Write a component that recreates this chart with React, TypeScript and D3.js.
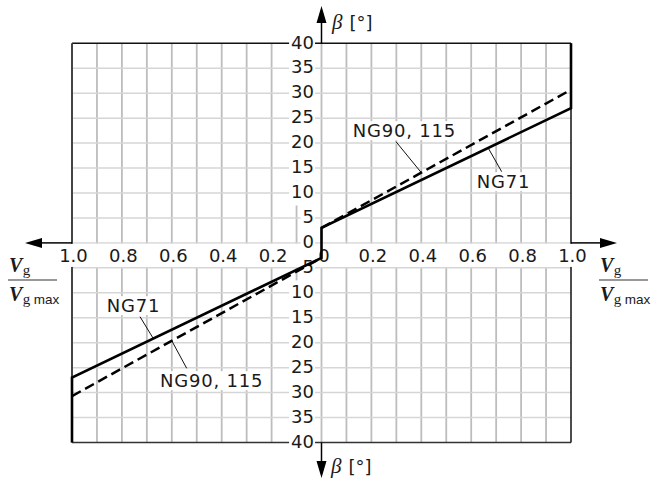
import React, { useEffect, useRef } from "react";
import * as d3 from "d3";

const WIDTH = 654;
const HEIGHT = 479;

// Swivel ratio Vg/Vg max (left-hand side negative) against swivel angle β in degrees
const ng71Curve: [number, number][] = [
  [-1, -40],
  [-1, -27],
  [0, -3],
  [0, 3],
  [1, 27],
  [1, 40],
];
const ng90UpperCurve: [number, number][] = [
  [0, 3],
  [1, 30.7],
];
const ng90LowerCurve: [number, number][] = [
  [-1, -30.7],
  [0, -3],
];

const xTicks = [-1, -0.8, -0.6, -0.4, -0.2, 0, 0.2, 0.4, 0.6, 0.8, 1];
const xTickLabels = ["1.0", "0.8", "0.6", "0.4", "0.2", "0", "0.2", "0.4", "0.6", "0.8", "1.0"];
const yTicks = [40, 35, 30, 25, 20, 15, 10, 5, 0, -5, -10, -15, -20, -25, -30, -35, -40];
const yTickLabels = ["40", "35", "30", "25", "20", "15", "10", "5", "0", "5", "10", "15", "20", "25", "30", "35", "40"];

const seriesNames = ["NG71", "NG90, 115"];

// Callout placement: text origin, leader start and the ratio where the leader meets its curve
const callouts = [
  { name: seriesNames[1], curve: ng90UpperCurve, tx: 352.7, ty: 136.7, lx: 396, ly: 141.7, at: 0.4 },
  { name: seriesNames[0], curve: ng71Curve, tx: 476.7, ty: 187.7, lx: 501.7, ly: 171.7, at: 0.668 },
  { name: seriesNames[0], curve: ng71Curve, tx: 106.7, ty: 311.7, lx: 140, ly: 316.7, at: -0.674 },
  { name: seriesNames[1], curve: ng90LowerCurve, tx: 160, ty: 386.7, lx: 186.7, ly: 368.3, at: -0.6 },
];

const SANS = "'DejaVu Sans', sans-serif";
const SERIF = "'Liberation Serif', 'DejaVu Serif', serif";

function betaAt(curve: [number, number][], x: number): number {
  for (let i = 0; i < curve.length - 1; i++) {
    const [x0, y0] = curve[i];
    const [x1, y1] = curve[i + 1];
    if (x0 !== x1 && x >= Math.min(x0, x1) && x <= Math.max(x0, x1)) {
      return d3.scaleLinear().domain([x0, x1]).range([y0, y1])(x);
    }
  }
  return curve[0][1];
}

export default function App() {
  const ref = useRef<SVGSVGElement | null>(null);

  useEffect(() => {
    const svg = d3.select(ref.current);
    svg.selectAll("*").remove();

    const x = d3.scaleLinear().domain([-1, 1]).range([72, 571]);
    const y = d3.scaleLinear().domain([-40, 40]).range([442.5, 43.3]);

    const g = svg.append("g");

    // grid
    const vGrid = d3.range(-9, 10).map((i) => i / 10);
    g.selectAll("line.vg")
      .data(vGrid)
      .join("line")
      .attr("x1", (d) => x(d))
      .attr("x2", (d) => x(d))
      .attr("y1", y(40))
      .attr("y2", y(-40))
      .attr("stroke", "#bdbdbd")
      .attr("stroke-width", 1.8);
    const hGrid = d3.range(-7, 8).map((i) => i * 5);
    g.selectAll("line.hg")
      .data(hGrid)
      .join("line")
      .attr("x1", x(-1))
      .attr("x2", x(1))
      .attr("y1", (d) => y(d))
      .attr("y2", (d) => y(d))
      .attr("stroke", "#d6d6d6")
      .attr("stroke-width", 1.5);

    // frame
    g.append("line").attr("x1", x(-1)).attr("x2", x(1)).attr("y1", y(40)).attr("y2", y(40)).attr("stroke", "#111").attr("stroke-width", 1.5);
    g.append("line").attr("x1", x(-1)).attr("x2", x(1)).attr("y1", y(-40)).attr("y2", y(-40)).attr("stroke", "#333").attr("stroke-width", 1.5);
    g.append("line").attr("x1", x(-1)).attr("x2", x(-1)).attr("y1", y(40)).attr("y2", y(-40)).attr("stroke", "#444").attr("stroke-width", 2);
    g.append("line").attr("x1", x(1)).attr("x2", x(1)).attr("y1", y(40)).attr("y2", y(-40)).attr("stroke", "#111").attr("stroke-width", 1.5);

    // band carrying the ratio tick labels
    g.append("rect")
      .attr("x", x(-1) - 10)
      .attr("y", y(0) + 0.9)
      .attr("width", x(1) - x(-1) + 20)
      .attr("height", y(-5) - y(0) - 1.8)
      .attr("fill", "#fff");

    // angle tick labels with white boxes
    const yl = g.append("g");
    yTicks.forEach((v, i) => {
      const label = yTickLabels[i];
      const w = label.length * 11.45;
      yl.append("rect")
        .attr("x", 314 - w - 2)
        .attr("y", y(v) - 12.5)
        .attr("width", w + 3)
        .attr("height", 25)
        .attr("fill", "#fff");
    });
    yTicks.forEach((v, i) => {
      yl.append("text")
        .attr("x", 314)
        .attr("y", y(v) + 5.2)
        .attr("text-anchor", "end")
        .attr("font-family", SANS)
        .attr("font-size", 18)
        .attr("fill", "#1a1a1a")
        .text(yTickLabels[i]);
    });

    // ratio tick labels
    g.selectAll("text.xt")
      .data(xTicks)
      .join("text")
      .attr("x", (d) => x(d) + (d === 0 ? 2.5 : 1.5))
      .attr("y", y(0) + 19.3)
      .attr("text-anchor", "middle")
      .attr("font-family", SANS)
      .attr("font-size", 18)
      .attr("fill", "#1a1a1a")
      .text((_, i) => xTickLabels[i]);

    // axis arrows
    const ax = g.append("g").attr("stroke", "#000").attr("stroke-width", 1.5);
    ax.append("line").attr("x1", x(-1)).attr("x2", 40).attr("y1", y(0)).attr("y2", y(0));
    ax.append("line").attr("x1", x(1)).attr("x2", 602).attr("y1", y(0)).attr("y2", y(0));
    ax.append("line").attr("x1", x(0)).attr("x2", x(0)).attr("y1", y(40)).attr("y2", 22);
    ax.append("line").attr("x1", x(0)).attr("x2", x(0)).attr("y1", y(-40)).attr("y2", 463);
    const heads = [
      `M25,${y(0)} L42,${y(0) - 5} L42,${y(0) + 5} Z`,
      `M617,${y(0)} L600,${y(0) - 5} L600,${y(0) + 5} Z`,
      `M${x(0)},6 L${x(0) - 5},23 L${x(0) + 5},23 Z`,
      `M${x(0)},478 L${x(0) - 5},461 L${x(0) + 5},461 Z`,
    ];
    g.selectAll("path.head").data(heads).join("path").attr("d", (d) => d).attr("fill", "#000");

    // β [°] axis titles
    const betaTitle = (bx: number, by: number) => {
      const t = g.append("text").attr("x", bx).attr("y", by).attr("font-size", 18).attr("fill", "#1a1a1a");
      t.append("tspan").attr("font-family", SERIF).attr("font-style", "italic").attr("font-size", 21).text("β");
      t.append("tspan").attr("font-family", SANS).attr("dx", 7).text("[°]");
    };
    betaTitle(332, 29);
    betaTitle(331, 472.5);

    // Vg / Vg max titles
    const ratioTitle = (fx: number) => {
      const t = g.append("g").attr("fill", "#1a1a1a");
      const num = t.append("text").attr("x", fx + 1).attr("y", 272);
      num.append("tspan").attr("font-family", SERIF).attr("font-style", "italic").attr("font-weight", "bold").attr("font-size", 20).text("V");
      num.append("tspan").attr("font-family", SERIF).attr("font-size", 15).attr("dy", 3).attr("dx", 0.5).text("g");
      t.append("line").attr("x1", fx).attr("x2", fx + 49).attr("y1", 280).attr("y2", 280).attr("stroke", "#333").attr("stroke-width", 1.2);
      const den = t.append("text").attr("x", fx + 1).attr("y", 301);
      den.append("tspan").attr("font-family", SERIF).attr("font-style", "italic").attr("font-weight", "bold").attr("font-size", 20).text("V");
      den.append("tspan").attr("font-family", SERIF).attr("font-size", 15).attr("dy", 3).attr("dx", 0.5).text("g");
      den.append("tspan").attr("font-family", "'Liberation Sans', sans-serif").attr("font-size", 13.5).attr("dx", 3.5).text("max");
    };
    ratioTitle(8);
    ratioTitle(599);

    // callouts
    callouts.forEach((c) => {
      const ex = x(c.at);
      const ey = y(betaAt(c.curve, c.at));
      g.append("line")
        .attr("x1", c.lx)
        .attr("y1", c.ly)
        .attr("x2", ex)
        .attr("y2", ey)
        .attr("stroke", "#111")
        .attr("stroke-width", 1);
      const box = g.append("rect").attr("fill", "#fff");
      const t = g
        .append("text")
        .attr("x", c.tx)
        .attr("y", c.ty)
        .attr("font-family", SANS)
        .attr("font-size", 18)
        .attr("letter-spacing", 0.8)
        .attr("fill", "#1a1a1a")
        .text(c.name);
      const bb = (t.node() as SVGTextElement).getBBox();
      box
        .attr("x", bb.x - 2)
        .attr("y", c.ty - 15.5)
        .attr("width", bb.width + 3)
        .attr("height", 19);
    });

    // curves
    const line = d3
      .line<[number, number]>()
      .x((d) => x(d[0]))
      .y((d) => y(d[1]));
    g.append("path")
      .attr("d", line(ng71Curve))
      .attr("fill", "none")
      .attr("stroke", "#000")
      .attr("stroke-width", 2.6)
      .attr("stroke-linejoin", "miter");
    [ng90UpperCurve, ng90LowerCurve].forEach((c) => {
      g.append("path")
        .attr("d", line(c))
        .attr("fill", "none")
        .attr("stroke", "#000")
        .attr("stroke-width", 2.5)
        .attr("stroke-dasharray", "10,5");
    });
  }, []);

  return (
    <svg
      ref={ref}
      width={WIDTH}
      height={HEIGHT}
      style={{ position: "absolute", left: 0, top: 0, background: "#fff" }}
    />
  );
}
